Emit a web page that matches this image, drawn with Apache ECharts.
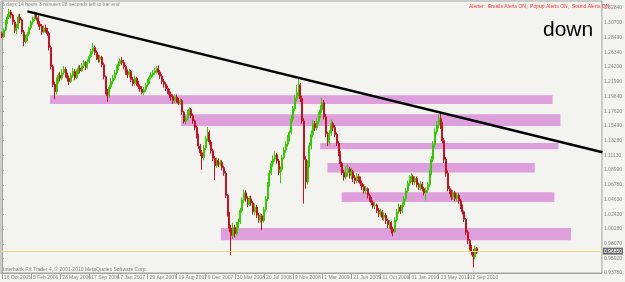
<!DOCTYPE html>
<html>
<head>
<meta charset="utf-8">
<script src="https://cdn.jsdelivr.net/npm/echarts@6/dist/echarts.min.js"></script>
<style>
html, body { margin: 0; padding: 0; background: #f3f4f0; }
#chart { width: 625px; height: 282px; }
</style>
</head>
<body>
<div id="chart"></div>
<script>
// USDCHF weekly, first bar = week of 16 Oct 2005, one label every 16 bars
var xLabels = ['16 Oct 2005', '5 Feb 2006', '28 May 2006', '17 Sep 2006', '7 Jan 2007', '29 Apr 2007',
  '19 Aug 2007', '9 Dec 2007', '30 Mar 2008', '20 Jul 2008', '9 Nov 2008', '1 Mar 2009',
  '21 Jun 2009', '11 Oct 2009', '31 Jan 2010', '23 May 2010', '12 Sep 2010'];
var yLabels = [0.9378, 0.9592, 0.9807, 1.0028, 1.0242, 1.0463, 1.0678, 1.0899, 1.1113, 1.1328,
  1.1549, 1.1762, 1.1984, 1.2199, 1.2420, 1.2634, 1.2849, 1.3070, 1.3284];

// [open, close, low, high]
var bars = [
  [1.2905,1.2862,1.2840,1.2935],[1.2862,1.2960,1.2850,1.2985],[1.2960,1.3090,1.2945,1.3110],[1.3090,1.3150,1.3050,1.3195],
  [1.3150,1.3225,1.3120,1.3270],[1.3225,1.3180,1.3130,1.3255],[1.3180,1.3080,1.3040,1.3200],[1.3080,1.2960,1.2920,1.3110],
  [1.2960,1.2990,1.2900,1.3050],[1.2990,1.3150,1.2970,1.3190],[1.3150,1.3110,1.3060,1.3200],[1.3110,1.2930,1.2900,1.3130],
  [1.2930,1.2790,1.2720,1.2960],[1.2790,1.2850,1.2760,1.2890],[1.2850,1.2900,1.2800,1.2930],[1.2900,1.2990,1.2870,1.3010],
  [1.2990,1.3080,1.2960,1.3100],[1.3080,1.3120,1.3040,1.3160],[1.3120,1.3200,1.3090,1.3230],[1.3200,1.3140,1.3100,1.3220],
  [1.3140,1.3050,1.3010,1.3170],[1.3050,1.3020,1.2960,1.3090],[1.3020,1.2930,1.2890,1.3050],[1.2930,1.2990,1.2910,1.3030],
  [1.2990,1.2960,1.2920,1.3040],[1.2960,1.2910,1.2870,1.2990],[1.2910,1.2700,1.2660,1.2940],[1.2700,1.2420,1.2380,1.2730],
  [1.2420,1.2160,1.2120,1.2450],[1.2160,1.2050,1.1940,1.2200],[1.2050,1.2200,1.2010,1.2260],[1.2200,1.2290,1.2170,1.2320],
  [1.2290,1.2250,1.2200,1.2340],[1.2250,1.2330,1.2220,1.2380],[1.2330,1.2380,1.2300,1.2430],[1.2380,1.2300,1.2260,1.2410],
  [1.2300,1.2250,1.2200,1.2330],[1.2250,1.2200,1.2150,1.2290],[1.2200,1.2290,1.2180,1.2330],[1.2290,1.2350,1.2260,1.2400],
  [1.2350,1.2260,1.2220,1.2380],[1.2260,1.2340,1.2240,1.2380],[1.2340,1.2400,1.2310,1.2440],[1.2400,1.2360,1.2320,1.2440],
  [1.2360,1.2430,1.2340,1.2470],[1.2430,1.2480,1.2400,1.2520],[1.2480,1.2410,1.2370,1.2500],[1.2410,1.2490,1.2390,1.2530],
  [1.2490,1.2570,1.2470,1.2600],[1.2570,1.2650,1.2550,1.2680],[1.2650,1.2700,1.2610,1.2770],[1.2700,1.2630,1.2590,1.2730],
  [1.2630,1.2560,1.2520,1.2660],[1.2560,1.2530,1.2480,1.2600],[1.2530,1.2560,1.2480,1.2590],[1.2560,1.2450,1.2410,1.2580],
  [1.2450,1.2270,1.2230,1.2480],[1.2270,1.2050,1.2010,1.2290],[1.2050,1.1990,1.1900,1.2090],[1.1990,1.2120,1.1960,1.2150],
  [1.2120,1.2200,1.2090,1.2250],[1.2200,1.2250,1.2160,1.2300],[1.2250,1.2330,1.2220,1.2370],[1.2330,1.2400,1.2300,1.2440],
  [1.2400,1.2460,1.2370,1.2500],[1.2460,1.2510,1.2430,1.2540],[1.2510,1.2480,1.2440,1.2560],[1.2480,1.2420,1.2380,1.2520],
  [1.2420,1.2340,1.2300,1.2450],[1.2340,1.2300,1.2250,1.2380],[1.2300,1.2350,1.2260,1.2390],[1.2350,1.2230,1.2190,1.2370],
  [1.2230,1.2170,1.2130,1.2270],[1.2170,1.2250,1.2140,1.2290],[1.2250,1.2180,1.2140,1.2270],[1.2180,1.2130,1.2090,1.2210],
  [1.2130,1.2090,1.2050,1.2160],[1.2090,1.2040,1.2010,1.2130],[1.2040,1.2080,1.2000,1.2120],[1.2080,1.2150,1.2050,1.2180],
  [1.2150,1.2200,1.2120,1.2240],[1.2200,1.2260,1.2170,1.2290],[1.2260,1.2300,1.2230,1.2340],[1.2300,1.2330,1.2270,1.2370],
  [1.2330,1.2360,1.2300,1.2400],[1.2360,1.2390,1.2320,1.2430],[1.2390,1.2340,1.2300,1.2440],[1.2340,1.2280,1.2240,1.2370],
  [1.2280,1.2200,1.2160,1.2310],[1.2200,1.2160,1.2110,1.2240],[1.2160,1.2100,1.2060,1.2190],[1.2100,1.2060,1.2020,1.2140],
  [1.2060,1.2010,1.1960,1.2090],[1.2010,1.1980,1.1920,1.2050],[1.1980,1.1920,1.1870,1.2010],[1.1920,1.1970,1.1880,1.2010],
  [1.1970,1.1930,1.1890,1.2010],[1.1930,1.1880,1.1850,1.1960],[1.1880,1.1920,1.1860,1.1950],[1.1920,1.1750,1.1710,1.1940],
  [1.1750,1.1610,1.1580,1.1770],[1.1610,1.1660,1.1570,1.1700],[1.1660,1.1740,1.1630,1.1780],[1.1740,1.1790,1.1700,1.1820],
  [1.1790,1.1700,1.1660,1.1810],[1.1700,1.1620,1.1580,1.1730],[1.1620,1.1520,1.1480,1.1640],[1.1520,1.1400,1.1360,1.1550],
  [1.1400,1.1250,1.1210,1.1430],[1.1250,1.1150,1.1100,1.1280],[1.1150,1.1080,1.0900,1.1190],[1.1080,1.1220,1.1040,1.1260],
  [1.1220,1.1360,1.1190,1.1400],[1.1360,1.1450,1.1320,1.1530],[1.1450,1.1310,1.1270,1.1480],[1.1310,1.1180,1.1140,1.1340],
  [1.1180,1.1070,1.1030,1.1210],[1.1070,1.0960,1.0750,1.1100],[1.0960,1.1040,1.0930,1.1080],[1.1040,1.0980,1.0940,1.1070],
  [1.0980,1.1010,1.0950,1.1050],[1.1010,1.0930,1.0890,1.1040],[1.0930,1.0850,1.0810,1.0960],[1.0850,1.0520,1.0480,1.0880],
  [1.0520,1.0250,1.0210,1.0540],[1.0250,1.0040,0.9980,1.0280],[1.0040,0.9930,0.9640,1.0090],[0.9930,1.0050,0.9880,1.0120],
  [1.0050,0.9960,0.9900,1.0090],[0.9960,1.0080,0.9930,1.0130],[1.0080,1.0130,1.0040,1.0180],[1.0130,1.0300,1.0100,1.0340],
  [1.0300,1.0450,1.0270,1.0490],[1.0450,1.0560,1.0410,1.0610],[1.0560,1.0480,1.0430,1.0600],[1.0480,1.0390,1.0350,1.0510],
  [1.0390,1.0470,1.0360,1.0510],[1.0470,1.0410,1.0370,1.0520],[1.0410,1.0280,1.0240,1.0440],[1.0280,1.0350,1.0230,1.0400],
  [1.0350,1.0230,1.0190,1.0380],[1.0230,1.0160,1.0120,1.0260],[1.0160,1.0220,1.0120,1.0260],[1.0220,1.0150,1.0010,1.0250],
  [1.0150,1.0310,1.0120,1.0350],[1.0310,1.0470,1.0280,1.0510],[1.0470,1.0680,1.0440,1.0720],[1.0680,1.0850,1.0650,1.0890],
  [1.0850,1.0990,1.0820,1.1030],[1.0990,1.1060,1.0940,1.1110],[1.1060,1.1120,1.1020,1.1170],[1.1120,1.1030,1.0990,1.1150],
  [1.1030,1.0860,1.0820,1.1060],[1.0860,1.0900,1.0700,1.0950],[1.0900,1.1080,1.0870,1.1120],[1.1080,1.1190,1.1050,1.1230],
  [1.1190,1.1280,1.1150,1.1320],[1.1280,1.1360,1.1240,1.1410],[1.1360,1.1450,1.1320,1.1480],[1.1450,1.1650,1.1420,1.1700],
  [1.1650,1.1800,1.1610,1.1840],[1.1800,1.1950,1.1760,1.2000],[1.1950,1.2040,1.1910,1.2150],[1.2040,1.2150,1.1980,1.2250],
  [1.2150,1.1950,1.1900,1.2180],[1.1950,1.1620,1.1580,1.1990],[1.1620,1.1050,1.0400,1.1660],[1.1050,1.0720,1.0620,1.1100],
  [1.0720,1.0980,1.0680,1.1040],[1.0980,1.1250,1.0940,1.1300],[1.1250,1.1420,1.1200,1.1480],[1.1420,1.1580,1.1380,1.1630],
  [1.1580,1.1520,1.1470,1.1620],[1.1520,1.1610,1.1480,1.1660],[1.1610,1.1700,1.1570,1.1750],[1.1700,1.1780,1.1660,1.1850],
  [1.1780,1.1890,1.1740,1.1960],[1.1890,1.1680,1.1640,1.1930],[1.1680,1.1430,1.1380,1.1720],[1.1430,1.1310,1.1250,1.1460],
  [1.1310,1.1440,1.1270,1.1480],[1.1440,1.1580,1.1400,1.1640],[1.1580,1.1520,1.1470,1.1610],[1.1520,1.1420,1.1380,1.1560],
  [1.1420,1.1290,1.1250,1.1450],[1.1290,1.1140,1.1100,1.1320],[1.1140,1.0990,1.0940,1.1170],[1.0990,1.0860,1.0820,1.1020],
  [1.0860,1.0790,1.0740,1.0900],[1.0790,1.0860,1.0760,1.0950],[1.0860,1.0910,1.0800,1.0980],[1.0910,1.0820,1.0770,1.0940],
  [1.0820,1.0870,1.0760,1.0930],[1.0870,1.0780,1.0720,1.0900],[1.0780,1.0740,1.0690,1.0820],[1.0740,1.0800,1.0700,1.0850],
  [1.0800,1.0760,1.0710,1.0840],[1.0760,1.0700,1.0660,1.0800],[1.0700,1.0650,1.0600,1.0740],[1.0650,1.0590,1.0550,1.0690],
  [1.0590,1.0620,1.0540,1.0660],[1.0620,1.0520,1.0480,1.0640],[1.0520,1.0470,1.0430,1.0550],[1.0470,1.0420,1.0380,1.0500],
  [1.0420,1.0370,1.0330,1.0450],[1.0370,1.0380,1.0320,1.0430],[1.0380,1.0300,1.0260,1.0400],[1.0300,1.0250,1.0200,1.0340],
  [1.0250,1.0280,1.0210,1.0330],[1.0280,1.0200,1.0160,1.0310],[1.0200,1.0230,1.0150,1.0270],[1.0230,1.0150,1.0100,1.0260],
  [1.0150,1.0090,1.0040,1.0180],[1.0090,1.0120,1.0030,1.0160],[1.0120,1.0020,0.9960,1.0140],[1.0020,0.9990,0.9920,1.0060],
  [0.9990,1.0160,0.9970,1.0200],[1.0160,1.0280,1.0130,1.0320],[1.0280,1.0350,1.0250,1.0400],[1.0350,1.0290,1.0250,1.0380],
  [1.0290,1.0380,1.0260,1.0420],[1.0380,1.0470,1.0350,1.0510],[1.0470,1.0590,1.0440,1.0630],[1.0590,1.0700,1.0560,1.0740],
  [1.0700,1.0760,1.0660,1.0820],[1.0760,1.0800,1.0720,1.0850],[1.0800,1.0720,1.0680,1.0830],[1.0720,1.0770,1.0680,1.0810],
  [1.0770,1.0680,1.0640,1.0800],[1.0680,1.0640,1.0600,1.0710],[1.0640,1.0690,1.0590,1.0730],[1.0690,1.0620,1.0580,1.0720],
  [1.0620,1.0560,1.0520,1.0650],[1.0560,1.0600,1.0450,1.0640],[1.0600,1.0680,1.0560,1.0720],[1.0680,1.0860,1.0650,1.0900],
  [1.0860,1.1050,1.0820,1.1100],[1.1050,1.1270,1.1010,1.1320],[1.1270,1.1460,1.1230,1.1510],[1.1460,1.1560,1.1420,1.1620],
  [1.1560,1.1650,1.1510,1.1720],[1.1650,1.1560,1.1500,1.1730],[1.1560,1.1330,1.1290,1.1600],[1.1330,1.1050,1.1000,1.1370],
  [1.1050,1.0850,1.0800,1.1090],[1.0850,1.0620,1.0580,1.0890],[1.0620,1.0580,1.0540,1.0660],[1.0580,1.0500,1.0450,1.0610],
  [1.0500,1.0560,1.0460,1.0600],[1.0560,1.0480,1.0440,1.0590],[1.0480,1.0520,1.0430,1.0560],[1.0520,1.0440,1.0400,1.0550],
  [1.0440,1.0360,1.0320,1.0470],[1.0360,1.0280,1.0240,1.0390],[1.0280,1.0170,1.0130,1.0300],[1.0170,0.9980,0.9940,1.0190],
  [0.9980,0.9860,0.9800,1.0010],[0.9860,0.9760,0.9710,0.9880],[0.9760,0.9700,0.9640,0.9790],[0.9700,0.9620,0.9460,0.9730],
  [0.9620,0.9740,0.9580,0.9780],[0.9740,0.9685,0.9660,0.9760]
];

// support/resistance boxes: [from bar, to bar, low, high]
var zones = [
  [26.5, 302.6, 1.1871, 1.2000],
  [98.5, 306.9, 1.1547, 1.1719],
  [174.9, 305.8, 1.1203, 1.1296],
  [178.9, 292.8, 1.0859, 1.1000],
  [186.7, 303.6, 1.0425, 1.0568],
  [120.3, 312.7, 0.9860, 1.0041]
];
var trend = [[14, 1.3235], [330, 1.1159]];
var lastPrice = 0.9685;

var chart = echarts.init(document.getElementById('chart'));
var tinyFont = 'Liberation Sans';
var xTicks = xLabels.map(function (s, i) { return i * 16; });

chart.setOption({
  backgroundColor: '#f3f4f0',
  animation: false,
  grid: { left: 1, right: 17, top: 1, bottom: 9, show: true, borderColor: '#a3a3a3', borderWidth: 1, backgroundColor: 'transparent' },
  xAxis: {
    type: 'value', min: -0.5, max: 329.7,
    splitLine: { show: false },
    axisLine: { show: true, onZero: false, lineStyle: { color: '#a3a3a3' } },
    axisTick: { show: true, customValues: xTicks, length: 6, lineStyle: { color: '#a3a3a3' } },
    axisLabel: {
      customValues: xTicks, align: 'left', margin: 2, padding: [0, 0, 0, 2],
      fontSize: 5, fontFamily: tinyFont, color: '#8a8a8a',
      formatter: function (v) { return xLabels[Math.round(v / 16)] || ''; }
    }
  },
  yAxis: {
    type: 'value', position: 'right', min: 0.9378, max: 1.3388, scale: true,
    splitLine: { show: false },
    axisLine: { show: true, lineStyle: { color: '#a3a3a3' } },
    axisTick: { show: true, customValues: yLabels, length: 2, lineStyle: { color: '#a3a3a3' } },
    axisLabel: {
      customValues: yLabels, margin: 2, fontSize: 5, fontFamily: tinyFont, color: '#8a8a8a',
      formatter: function (v) { return v.toFixed(5); }
    }
  },
  series: [
    {
      type: 'line', z: 1, data: [], symbol: 'none',
      markArea: {
        silent: true,
        itemStyle: { color: '#dda0dd' },
        data: zones.map(function (z) {
          return [{ xAxis: z[0], yAxis: z[3] }, { xAxis: z[1], yAxis: z[2] }];
        })
      }
    },
    {
      type: 'candlestick', z: 2,
      barWidth: 1.5,
      encode: { x: 0, y: [1, 2, 3, 4] },
      data: bars.map(function (b, i) { return [i, b[0], b[1], b[2], b[3]]; }),
      itemStyle: { color: '#33cc00', borderColor: '#33cc00', color0: '#cc1020', borderColor0: '#cc1020', borderWidth: 1 },
      markLine: {
        silent: true, symbol: 'none',
        lineStyle: { color: '#eedc80', width: 1, type: 'solid' },
        label: {
          show: true, position: 'end', distance: 1,
          formatter: lastPrice.toFixed(5),
          backgroundColor: '#6e6e6e', color: '#ffffff', fontSize: 5, fontFamily: tinyFont, padding: [1, 1]
        },
        data: [{ yAxis: lastPrice }]
      }
    },
    {
      type: 'line', z: 3, data: trend, symbol: 'none', clip: true,
      lineStyle: { color: '#000000', width: 2.5 }
    }
  ],
  graphic: [
    { type: 'text', left: 2, top: 2, style: { text: '5 days 14 hours 3 minutes 28 seconds left to bar end', fill: '#8a8a8a', font: '5px Liberation Sans' } },
    { type: 'text', left: 469, top: 4, style: { text: 'Alerter:  Emails Alerts ON,  Popup Alerts ON,  Sound Alerts ON', fill: '#ff3030', font: '5px Liberation Sans' } },
    { type: 'text', left: 543, top: 20, style: { text: 'down', fill: '#000000', font: '21px Liberation Sans' } },
    { type: 'text', left: 3, top: 267, style: { text: 'Interbank FX Trader 4, \u00a9 2001-2010 MetaQuotes Software Corp.', fill: '#808080', font: '5px Liberation Sans' } }
  ]
});
</script>
</body>
</html>
